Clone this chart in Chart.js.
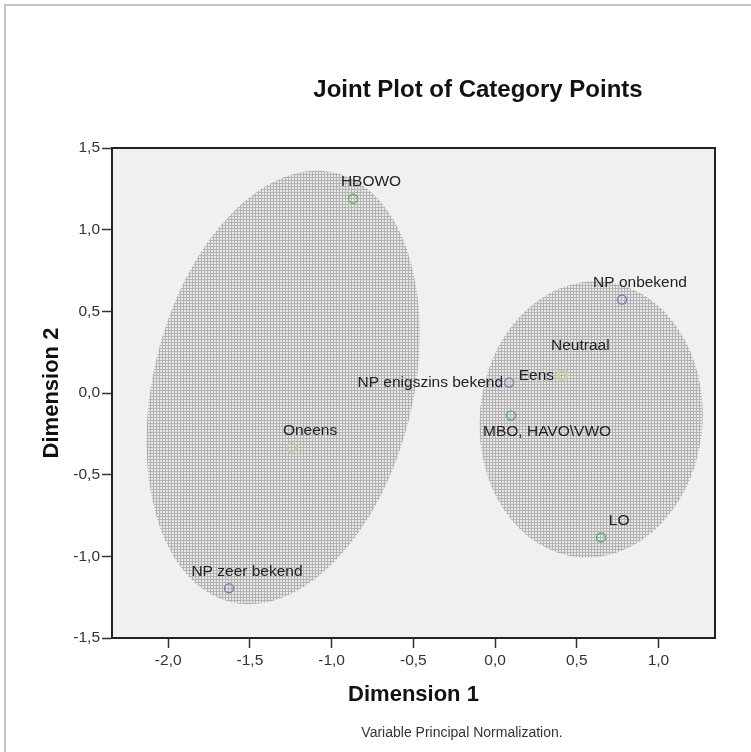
<!DOCTYPE html>
<html>
<head>
<meta charset="utf-8">
<title>Joint Plot of Category Points</title>
<script src="https://cdn.jsdelivr.net/npm/chart.js@4.4.1/dist/chart.umd.min.js"></script>
<style>
  html, body { margin: 0; padding: 0; background: #fff; }
  canvas { display: block; }
</style>
</head>
<body>
<canvas id="jointPlot" width="751" height="752"></canvas>
<script>
'use strict';

// --- data (object scores) ---
const NP_LABELS = ['NP onbekend', 'NP enigszins bekend', 'NP zeer bekend'];
const NP_X = [0.777, 0.086, -1.628];
const NP_Y = [0.572, 0.064, -1.196];

const EDU_LABELS = ['HBOWO', 'MBO, HAVO\\VWO', 'LO'];
const EDU_X = [-0.869, 0.098, 0.649];
const EDU_Y = [1.190, -0.138, -0.884];

const OPINION_LABELS = ['Eens', 'Neutraal', 'Oneens'];
const OPINION_X = [0.410, 0.418, -1.242];
const OPINION_Y = [0.107, 0.112, -0.333];

// cluster ellipses: centre, semi-axes (data units), tilt in degrees
const ELLIPSE_CX = [-1.297, 0.588];
const ELLIPSE_CY = [0.034, -0.162];
const ELLIPSE_MINOR = [0.795, 0.682];
const ELLIPSE_MAJOR = [1.352, 0.847];
const ELLIPSE_TILT = [13.8, 5];

const X_TICKS = [-2, -1.5, -1, -0.5, 0, 0.5, 1];
const X_TICK_LABELS = ['-2,0', '-1,5', '-1,0', '-0,5', '0,0', '0,5', '1,0'];
const Y_TICKS = [-1.5, -1, -0.5, 0, 0.5, 1, 1.5];
const Y_TICK_LABELS = ['-1,5', '-1,0', '-0,5', '0,0', '0,5', '1,0', '1,5'];
const X_MIN = -2.344, X_MAX = 1.346;
const Y_MIN = -1.5, Y_MAX = 1.5;

// --- label placement (pixel offsets of the label from its point) ---
const LABEL_OFFSET = {
  'Eens': [-8, 0, 'right'],
  'NP enigszins bekend': [-6, 0, 'right'],
  'MBO, HAVO\\VWO': [36, 16, 'center'],
  'Neutraal': [17, -29, 'center'],
};
const DEFAULT_OFFSET = [18, -17, 'center'];

const FONT = "'Liberation Sans', Arial, sans-serif";
const toPoints = (xs, ys) => xs.map((x, i) => ({ x, y: ys[i] }));

function makeStipple(ctx) {
  const tile = document.createElement('canvas');
  tile.width = tile.height = 3;
  const t = tile.getContext('2d');
  t.fillStyle = '#e8e8e8';
  t.fillRect(0, 0, 3, 3);
  t.fillStyle = '#b2b2b2';
  t.fillRect(0, 0, 3, 1);
  t.fillRect(0, 0, 1, 3);
  return ctx.createPattern(tile, 'repeat');
}

const jointPlotPlugin = {
  id: 'jointPlotDecor',
  beforeDraw(chart) {
    const { ctx, chartArea: a, width, height } = chart;
    ctx.save();
    ctx.fillStyle = '#fff';
    ctx.fillRect(0, 0, width, height);
    // outer frame (only left/top edge visible)
    ctx.strokeStyle = '#c6c6c6';
    ctx.lineWidth = 2;
    ctx.beginPath();
    ctx.moveTo(5, height);
    ctx.lineTo(5, 5);
    ctx.lineTo(width, 5);
    ctx.stroke();
    ctx.fillStyle = '#f0f0f0';
    ctx.fillRect(a.left, a.top, a.right - a.left, a.bottom - a.top);
    ctx.restore();
  },
  beforeDatasetsDraw(chart) {
    const { ctx, scales: { x, y } } = chart;
    const sx = Math.abs(x.getPixelForValue(1) - x.getPixelForValue(0));
    const sy = Math.abs(y.getPixelForValue(1) - y.getPixelForValue(0));
    ctx.save();
    ctx.fillStyle = makeStipple(ctx);
    ELLIPSE_CX.forEach((cx, i) => {
      ctx.beginPath();
      ctx.ellipse(x.getPixelForValue(cx), y.getPixelForValue(ELLIPSE_CY[i]),
        ELLIPSE_MINOR[i] * sx, ELLIPSE_MAJOR[i] * sy,
        ELLIPSE_TILT[i] * Math.PI / 180, 0, Math.PI * 2);
      ctx.fill();
    });
    ctx.restore();
  },
  afterDatasetsDraw(chart) {
    const { ctx, chartArea: a } = chart;
    ctx.save();
    // point labels
    ctx.font = '15.5px ' + FONT;
    ctx.fillStyle = '#222';
    ctx.textBaseline = 'middle';
    chart.data.datasets.forEach((ds, di) => {
      chart.getDatasetMeta(di).data.forEach((pt, i) => {
        const name = ds.pointNames[i];
        const [dx, dy, align] = LABEL_OFFSET[name] || DEFAULT_OFFSET;
        ctx.textAlign = align;
        ctx.fillText(name, pt.x + dx, pt.y + dy);
      });
    });
    // plot frame
    ctx.strokeStyle = '#222';
    ctx.lineWidth = 2;
    ctx.strokeRect(a.left, a.top, a.right - a.left, a.bottom - a.top);
    // title
    ctx.textAlign = 'center';
    ctx.textBaseline = 'alphabetic';
    ctx.fillStyle = '#111';
    ctx.font = 'bold 24px ' + FONT;
    ctx.fillText('Joint Plot of Category Points', 478, 97);
    // footnote
    ctx.fillStyle = '#333';
    ctx.font = '14px ' + FONT;
    ctx.fillText('Variable Principal Normalization.', 462, 737);
    ctx.restore();
  },
};

const axisStyle = {
  border: { display: true, color: '#222', width: 2 },
  grid: { drawOnChartArea: false, drawTicks: true, tickLength: 10, tickColor: '#333', tickWidth: 1.5 },
};

new Chart(document.getElementById('jointPlot'), {
  type: 'scatter',
  data: {
    datasets: [
      {
        label: 'NP',
        data: toPoints(NP_X, NP_Y),
        pointNames: NP_LABELS,
        borderColor: '#7c84b4',
      },
      {
        label: 'Opleiding',
        data: toPoints(EDU_X, EDU_Y),
        pointNames: EDU_LABELS,
        borderColor: '#66ac6a',
      },
      {
        label: 'Mening',
        data: toPoints(OPINION_X, OPINION_Y),
        pointNames: OPINION_LABELS,
        borderColor: '#cfcf9c',
      },
    ],
  },
  options: {
    responsive: false,
    animation: false,
    elements: {
      point: { radius: 4.5, borderWidth: 1.5, backgroundColor: 'rgba(0,0,0,0)', hoverRadius: 4.5 },
    },
    layout: { padding: { top: 148, right: 36, left: 0, bottom: 0 } },
    plugins: {
      legend: { display: false },
      tooltip: { enabled: false },
    },
    scales: {
      x: {
        type: 'linear',
        min: X_MIN,
        max: X_MAX,
        ...axisStyle,
        afterFit: s => { s.height = 114; },
        afterBuildTicks: s => { s.ticks = X_TICKS.map(v => ({ value: v })); },
        ticks: {
          color: '#333',
          padding: 3,
          maxRotation: 0,
          autoSkip: false,
          font: { family: FONT, size: 15.5 },
          callback: v => X_TICK_LABELS[X_TICKS.indexOf(v)],
        },
        title: {
          display: true,
          text: 'Dimension 1',
          color: '#111',
          font: { family: FONT, size: 22, weight: 'bold' },
          padding: { top: 0, bottom: 44 },
        },
      },
      y: {
        type: 'linear',
        min: Y_MIN,
        max: Y_MAX,
        ...axisStyle,
        afterFit: s => { s.width = 112; },
        afterBuildTicks: s => { s.ticks = Y_TICKS.map(v => ({ value: v })); },
        ticks: {
          color: '#333',
          padding: 2,
          autoSkip: false,
          font: { family: FONT, size: 15.5 },
          callback: v => Y_TICK_LABELS[Y_TICKS.indexOf(v)],
        },
        title: {
          display: true,
          text: 'Dimension 2',
          color: '#111',
          font: { family: FONT, size: 22, weight: 'bold' },
          padding: { top: 39, bottom: 0 },
        },
      },
    },
  },
  plugins: [jointPlotPlugin],
});
</script>
</body>
</html>
